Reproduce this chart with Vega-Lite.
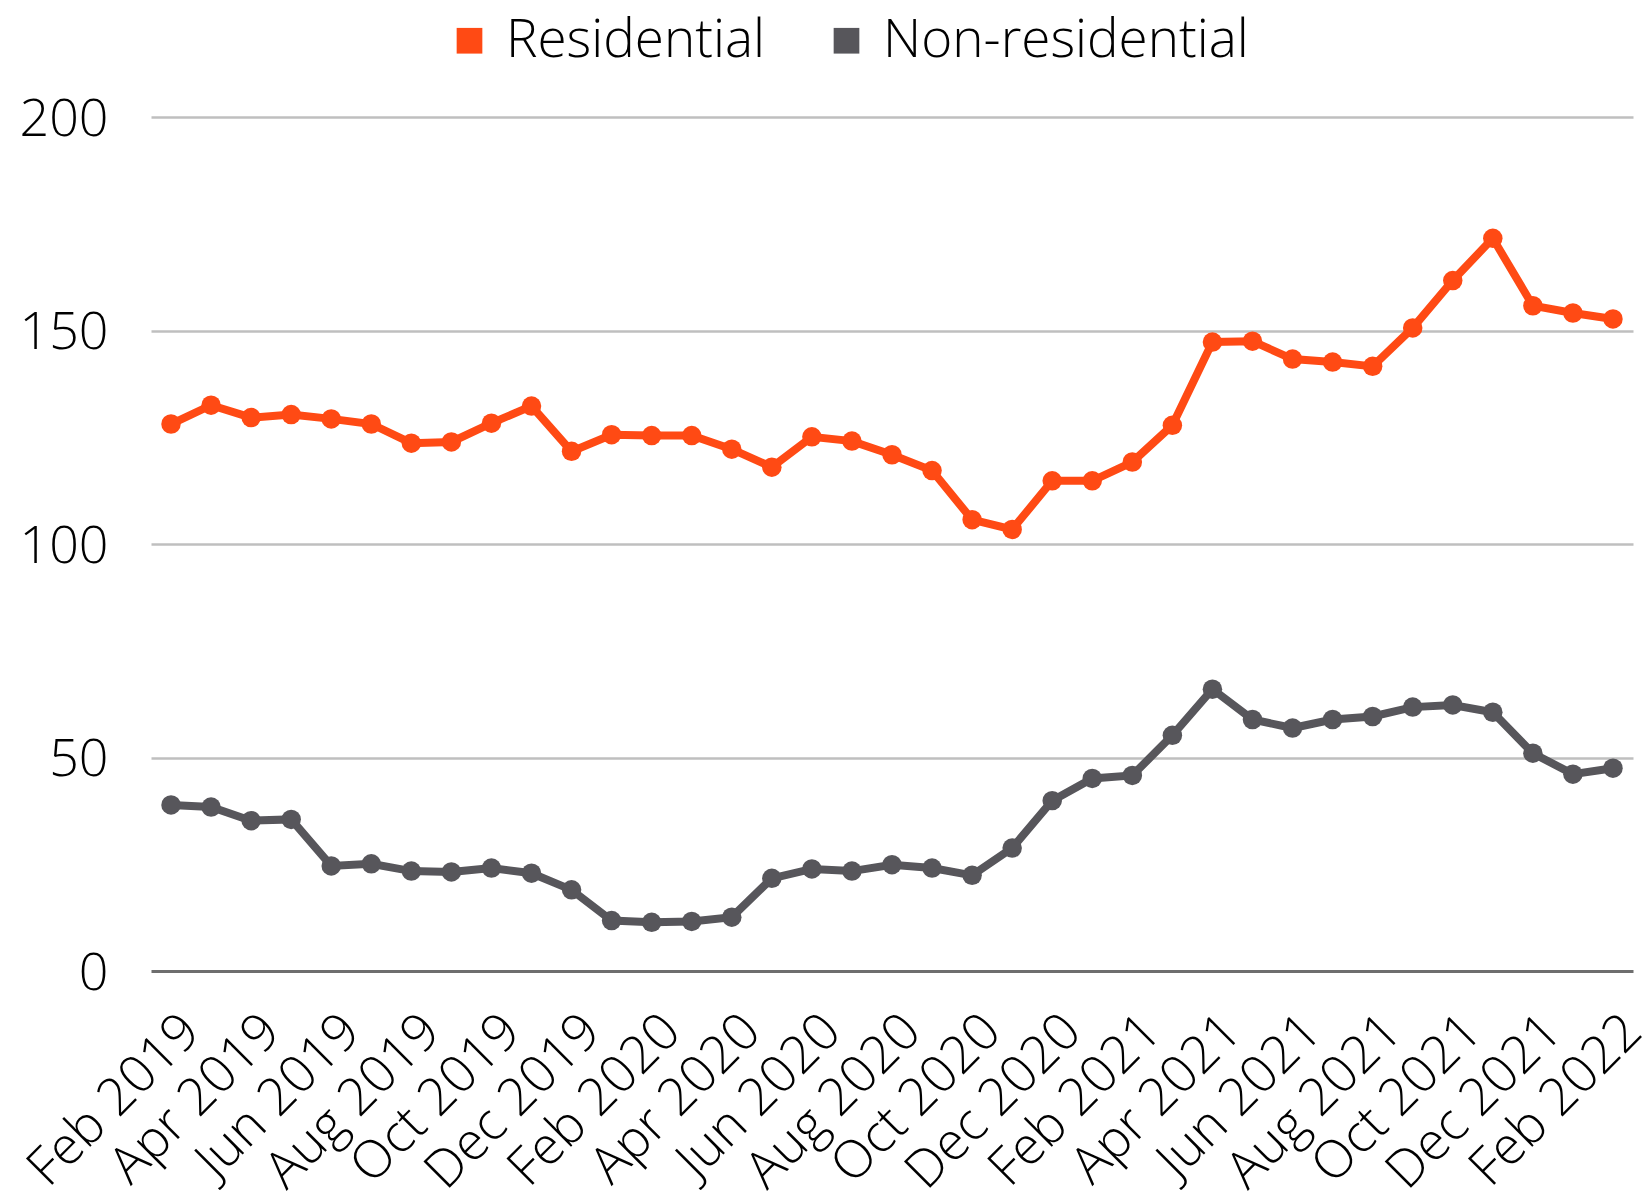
{
  "$schema": "https://vega.github.io/schema/vega-lite/v6.json",
  "autosize": "none",
  "width": 1482,
  "height": 854,
  "padding": {"left": 151, "top": 117, "right": 16, "bottom": 233},
  "background": "white",
  "config": {
    "view": {"stroke": null},
    "font": "Open Sans",
    "axis": {"labelFont": "Open Sans", "labelFontWeight": 300, "labelColor": "#000000"},
    "legend": {"labelFont": "Open Sans", "labelFontWeight": 300}
  },
  "data": {
    "values": [
      {"month": "Feb 2019", "series": "Residential", "value": 128.1},
      {"month": "Mar 2019", "series": "Residential", "value": 132.5},
      {"month": "Apr 2019", "series": "Residential", "value": 129.6},
      {"month": "May 2019", "series": "Residential", "value": 130.3},
      {"month": "Jun 2019", "series": "Residential", "value": 129.3},
      {"month": "Jul 2019", "series": "Residential", "value": 128.1},
      {"month": "Aug 2019", "series": "Residential", "value": 123.6},
      {"month": "Sep 2019", "series": "Residential", "value": 123.9},
      {"month": "Oct 2019", "series": "Residential", "value": 128.3},
      {"month": "Nov 2019", "series": "Residential", "value": 132.3},
      {"month": "Dec 2019", "series": "Residential", "value": 121.7},
      {"month": "Jan 2020", "series": "Residential", "value": 125.6},
      {"month": "Feb 2020", "series": "Residential", "value": 125.4},
      {"month": "Mar 2020", "series": "Residential", "value": 125.4},
      {"month": "Apr 2020", "series": "Residential", "value": 122.2},
      {"month": "May 2020", "series": "Residential", "value": 118.0},
      {"month": "Jun 2020", "series": "Residential", "value": 125.1},
      {"month": "Jul 2020", "series": "Residential", "value": 124.1},
      {"month": "Aug 2020", "series": "Residential", "value": 120.9},
      {"month": "Sep 2020", "series": "Residential", "value": 117.2},
      {"month": "Oct 2020", "series": "Residential", "value": 105.7},
      {"month": "Nov 2020", "series": "Residential", "value": 103.4},
      {"month": "Dec 2020", "series": "Residential", "value": 114.8},
      {"month": "Jan 2021", "series": "Residential", "value": 114.8},
      {"month": "Feb 2021", "series": "Residential", "value": 119.2},
      {"month": "Mar 2021", "series": "Residential", "value": 127.8},
      {"month": "Apr 2021", "series": "Residential", "value": 147.3},
      {"month": "May 2021", "series": "Residential", "value": 147.5},
      {"month": "Jun 2021", "series": "Residential", "value": 143.3},
      {"month": "Jul 2021", "series": "Residential", "value": 142.6},
      {"month": "Aug 2021", "series": "Residential", "value": 141.6},
      {"month": "Sep 2021", "series": "Residential", "value": 150.6},
      {"month": "Oct 2021", "series": "Residential", "value": 161.7},
      {"month": "Nov 2021", "series": "Residential", "value": 171.6},
      {"month": "Dec 2021", "series": "Residential", "value": 155.8},
      {"month": "Jan 2022", "series": "Residential", "value": 154.1},
      {"month": "Feb 2022", "series": "Residential", "value": 152.7},
      {"month": "Feb 2019", "series": "Non-residential", "value": 38.9},
      {"month": "Mar 2019", "series": "Non-residential", "value": 38.4},
      {"month": "Apr 2019", "series": "Non-residential", "value": 35.2},
      {"month": "May 2019", "series": "Non-residential", "value": 35.5},
      {"month": "Jun 2019", "series": "Non-residential", "value": 24.6},
      {"month": "Jul 2019", "series": "Non-residential", "value": 25.1},
      {"month": "Aug 2019", "series": "Non-residential", "value": 23.4},
      {"month": "Sep 2019", "series": "Non-residential", "value": 23.2},
      {"month": "Oct 2019", "series": "Non-residential", "value": 24.1},
      {"month": "Nov 2019", "series": "Non-residential", "value": 22.9},
      {"month": "Dec 2019", "series": "Non-residential", "value": 19.0},
      {"month": "Jan 2020", "series": "Non-residential", "value": 11.8},
      {"month": "Feb 2020", "series": "Non-residential", "value": 11.4},
      {"month": "Mar 2020", "series": "Non-residential", "value": 11.6},
      {"month": "Apr 2020", "series": "Non-residential", "value": 12.6},
      {"month": "May 2020", "series": "Non-residential", "value": 21.7},
      {"month": "Jun 2020", "series": "Non-residential", "value": 23.9},
      {"month": "Jul 2020", "series": "Non-residential", "value": 23.4},
      {"month": "Aug 2020", "series": "Non-residential", "value": 24.9},
      {"month": "Sep 2020", "series": "Non-residential", "value": 24.1},
      {"month": "Oct 2020", "series": "Non-residential", "value": 22.4},
      {"month": "Nov 2020", "series": "Non-residential", "value": 28.8},
      {"month": "Dec 2020", "series": "Non-residential", "value": 39.9},
      {"month": "Jan 2021", "series": "Non-residential", "value": 45.1},
      {"month": "Feb 2021", "series": "Non-residential", "value": 45.8},
      {"month": "Mar 2021", "series": "Non-residential", "value": 55.2},
      {"month": "Apr 2021", "series": "Non-residential", "value": 66.0},
      {"month": "May 2021", "series": "Non-residential", "value": 58.9},
      {"month": "Jun 2021", "series": "Non-residential", "value": 56.9},
      {"month": "Jul 2021", "series": "Non-residential", "value": 58.9},
      {"month": "Aug 2021", "series": "Non-residential", "value": 59.6},
      {"month": "Sep 2021", "series": "Non-residential", "value": 61.8},
      {"month": "Oct 2021", "series": "Non-residential", "value": 62.3},
      {"month": "Nov 2021", "series": "Non-residential", "value": 60.6},
      {"month": "Dec 2021", "series": "Non-residential", "value": 51.0},
      {"month": "Jan 2022", "series": "Non-residential", "value": 46.1},
      {"month": "Feb 2022", "series": "Non-residential", "value": 47.5}
    ]
  },
  "encoding": {
    "x": {
      "field": "month",
      "type": "ordinal",
      "sort": null,
      "scale": {"type": "point", "padding": 0.5},
      "axis": {
        "title": null,
        "values": ["Feb 2019", "Apr 2019", "Jun 2019", "Aug 2019", "Oct 2019", "Dec 2019", "Feb 2020", "Apr 2020", "Jun 2020", "Aug 2020", "Oct 2020", "Dec 2020", "Feb 2021", "Apr 2021", "Jun 2021", "Aug 2021", "Oct 2021", "Dec 2021", "Feb 2022"],
        "domain": false,
        "ticks": false,
        "grid": false,
        "labelAngle": -45,
        "labelAlign": "right",
        "labelBaseline": "top",
        "labelFontSize": 52,
        "labelOffset": 2,
        "labelPadding": 34,
        "labelLimit": 1000,
        "labelOverlap": false,
        "labelBound": false,
        "labelFlush": false
      }
    },
    "y": {
      "field": "value",
      "type": "quantitative",
      "scale": {"domain": [0, 200], "nice": false, "zero": true},
      "axis": {
        "title": null,
        "values": [0, 50, 100, 150, 200],
        "domain": false,
        "ticks": false,
        "grid": true,
        "gridColor": {"condition": {"test": "datum.value === 0", "value": "#6E6E6E"}, "value": "#BFBFBF"},
        "gridWidth": {"condition": {"test": "datum.value === 0", "value": 3}, "value": 2.5},
        "labelFontSize": 52,
        "labelPadding": 43,
        "labelBaseline": "middle",
        "labelOffset": 2
      }
    },
    "color": {
      "field": "series",
      "type": "nominal",
      "scale": {"domain": ["Residential", "Non-residential"], "range": ["#FF4A14", "#57565B"]},
      "legend": {
        "title": null,
        "orient": "none",
        "direction": "horizontal",
        "legendX": 292,
        "legendY": -103,
        "padding": 0,
        "symbolType": "square",
        "symbolSize": 660,
        "symbolStrokeWidth": 0,
        "labelFontSize": 53,
        "labelOffset": 10,
        "labelLimit": 1000,
        "columnPadding": 55,
        "labelColor": "#000000"
      }
    }
  },
  "layer": [
    {"mark": {"type": "line", "strokeWidth": 8}},
    {"mark": {"type": "point", "filled": true, "opacity": 1, "size": 380}}
  ]
}
